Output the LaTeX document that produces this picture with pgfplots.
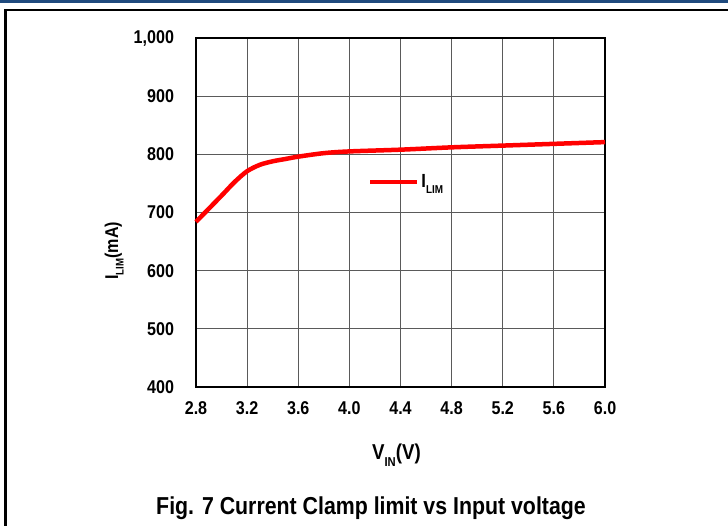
\documentclass[border=0pt]{standalone}
\usepackage{fontspec}
\setmainfont{Liberation Sans}[FakeStretch=0.87]
\usepackage{pgfplots}
\pgfplotsset{compat=1.18}
\definecolor{barblue}{HTML}{1F4A7E}
\definecolor{gridgray}{HTML}{5A5A5A}
\newcommand\sub[1]{\raisebox{-0.3em}{\scalebox{0.6}{#1}}}
\begin{document}
\begin{tikzpicture}[x=1bp,y=1bp]
\useasboundingbox (0,0) rectangle (728,526);
\fill[barblue] (0,522.5) rectangle (728,526);
\draw[line width=2.2bp] (5.5,-10) -- (5.5,516) -- (740,516);
\begin{axis}[
  at={(196bp,139bp)}, anchor=south west,
  scale only axis, width=409bp, height=349bp,
  xmin=2.8, xmax=6.0, ymin=400, ymax=1000,
  xtick={2.8,3.2,3.6,4.0,4.4,4.8,5.2,5.6,6.0},
  ytick={400,500,600,700,800,900,1000},
  grid=major,
  major grid style={draw=gridgray, line width=1bp},
  axis line style={line width=2.6bp},
  major tick length=0pt,
  /pgf/number format/assume math mode=true,
  xticklabel style={/pgf/number format/.cd, fixed, fixed zerofill, precision=1, /tikz/.cd, font=\bfseries\fontsize{18.5bp}{20bp}\selectfont, yshift=-11bp},
  yticklabel style={/pgf/number format/.cd, 1000 sep={,}, /tikz/.cd, font=\bfseries\fontsize{18.5bp}{20bp}\selectfont, xshift=-18.5bp},
  xlabel={V\sub{IN}(V)},
  xlabel style={at={(axis description cs:0.49,-0.195)}, anchor=center, font=\bfseries\fontsize{21.5bp}{23bp}\selectfont},
  ylabel={I\sub{LIM}(mA)},
  ylabel style={at={(axis description cs:-0.2,0.39)}, anchor=center, font=\bfseries\fontsize{18.5bp}{20bp}\selectfont},
  legend style={at={(axis description cs:0.42,0.587)}, anchor=west, draw=none, fill=none, font=\bfseries\fontsize{19bp}{21bp}\selectfont, inner sep=0pt, legend cell align=left},
  legend image code/.code={\draw[#1, line width=4.5bp] (0bp,0bp) -- (47bp,0bp);},
  clip=false,
]
\addplot[red, line width=4.5bp, smooth, tension=0.5] coordinates {
(2.8,684) (3.0,729) (3.1,752) (3.2,771) (3.3,782) (3.4,788) (3.5,792) (3.6,796)
(3.8,802) (4.0,805) (4.4,808) (4.8,812) (5.2,815) (5.6,818) (6.0,821)};
\addlegendentry{I\sub{LIM}}
\end{axis}
\node[font=\bfseries\fontsize{24.5bp}{26bp}\selectfont] at (371,18) {Fig. 7 Current Clamp limit vs Input voltage};
\end{tikzpicture}
\end{document}
